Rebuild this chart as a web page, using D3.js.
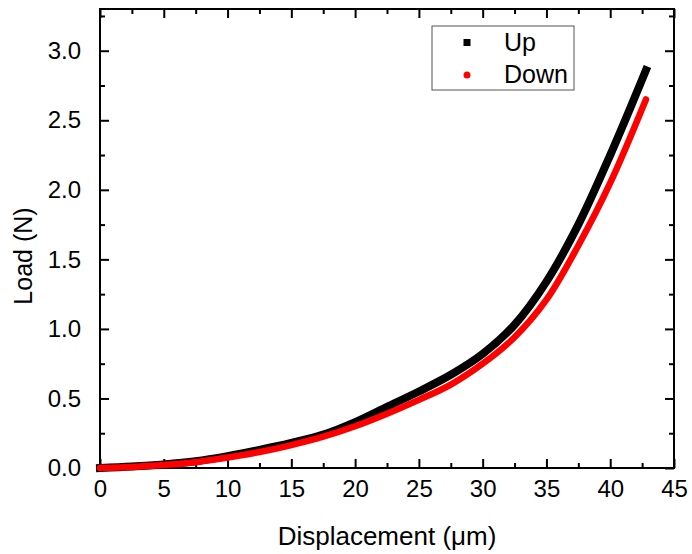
<!DOCTYPE html>
<html>
<head>
<meta charset="utf-8">
<script src="https://cdn.jsdelivr.net/npm/d3@7"></script>
<style>
  body {margin: 0; background: #fff;}
  svg text {font-family: 'Liberation Sans', Arial, sans-serif; fill: #000;}
</style>
</head>
<body>
<div id="graph"></div>
<script>
// displacement (um) and load (N)
var upDisp = [0, 2.5, 5, 7.5, 10, 12.5, 15, 17.5, 20, 22.5, 25, 27.5, 30, 32.5, 35, 37.5, 40, 42.8]
var upLoad = [0, 0.01, 0.025, 0.048, 0.085, 0.13, 0.18, 0.24, 0.33, 0.44, 0.55, 0.67, 0.82, 1.03, 1.34, 1.75, 2.25, 2.86]

var downDisp = [0, 2.5, 5, 7.5, 10, 12.5, 15, 17.5, 20, 22.5, 25, 27.5, 30, 32.5, 35, 37.5, 40, 42.8]
var downLoad = [0, 0.008, 0.022, 0.042, 0.075, 0.115, 0.165, 0.225, 0.3, 0.39, 0.49, 0.6, 0.75, 0.94, 1.21, 1.6, 2.05, 2.65]

var xTicks = [0, 5, 10, 15, 20, 25, 30, 35, 40, 45]
var yTicks = [0, 0.5, 1.0, 1.5, 2.0, 2.5, 3.0]
var seriesNames = ['Up', 'Down']

var width = 692, height = 554
var margin = {left: 100, top: 9, right: 18, bottom: 86}

var svg = d3.select('#graph').append('svg')
  .attr('width', width)
  .attr('height', height)

var x = d3.scaleLinear().domain([0, 45]).range([margin.left, width - margin.right])
var y = d3.scaleLinear().domain([0, 3.3]).range([height - margin.bottom, margin.top])

var x0 = x.range()[0], x1 = x.range()[1]
var y0 = y.range()[0], y1 = y.range()[1]

// minor ticks halfway between the labelled ones
var xMinor = d3.range(2.5, 45, 5)
var yMinor = d3.range(0.25, 3.3, 0.5)

function styleAxis(g){
  g.select('.domain').remove()
  g.selectAll('.tick line').attr('stroke', '#000').attr('stroke-width', 2)
  g.selectAll('.tick text').style('font-size', '24px')
}

// bottom
svg.append('g')
  .attr('transform', `translate(0,${y0})`)
  .call(d3.axisBottom(x).tickValues(xTicks).tickSize(-9).tickPadding(12).tickFormat(d3.format('d')))
  .call(styleAxis)
svg.append('g')
  .attr('transform', `translate(0,${y0})`)
  .call(d3.axisBottom(x).tickValues(xMinor).tickSize(-5).tickFormat(''))
  .call(styleAxis)

// top (mirror)
svg.append('g')
  .attr('transform', `translate(0,${y1})`)
  .call(d3.axisTop(x).tickValues(xTicks).tickSize(-9).tickFormat(''))
  .call(styleAxis)
svg.append('g')
  .attr('transform', `translate(0,${y1})`)
  .call(d3.axisTop(x).tickValues(xMinor).tickSize(-5).tickFormat(''))
  .call(styleAxis)

// left
svg.append('g')
  .attr('transform', `translate(${x0},0)`)
  .call(d3.axisLeft(y).tickValues(yTicks).tickSize(-9).tickPadding(19).tickFormat(d3.format('.1f')))
  .call(styleAxis)
svg.append('g')
  .attr('transform', `translate(${x0},0)`)
  .call(d3.axisLeft(y).tickValues(yMinor).tickSize(-5).tickFormat(''))
  .call(styleAxis)

// right (mirror)
svg.append('g')
  .attr('transform', `translate(${x1},0)`)
  .call(d3.axisRight(y).tickValues(yTicks).tickSize(-9).tickFormat(''))
  .call(styleAxis)
svg.append('g')
  .attr('transform', `translate(${x1},0)`)
  .call(d3.axisRight(y).tickValues(yMinor).tickSize(-5).tickFormat(''))
  .call(styleAxis)

// frame
svg.append('rect')
  .attr('x', x0).attr('y', y1)
  .attr('width', x1 - x0).attr('height', y0 - y1)
  .attr('fill', 'none').attr('stroke', '#000').attr('stroke-width', 2)

var line = d3.line()
  .x(d => x(d[0]))
  .y(d => y(d[1]))
  .curve(d3.curveCatmullRom.alpha(0.5))

var upPts = d3.zip(upDisp, upLoad)
var downPts = d3.zip(downDisp, downLoad)

svg.append('path')
  .attr('d', line(upPts))
  .attr('fill', 'none').attr('stroke', '#000').attr('stroke-width', 8)
  .attr('stroke-linecap', 'square')

svg.append('path')
  .attr('d', line(downPts))
  .attr('fill', 'none').attr('stroke', '#f00').attr('stroke-width', 6.5)
  .attr('stroke-linecap', 'round')

// axis titles
svg.append('text')
  .attr('x', (x0 + x1) / 2).attr('y', 545)
  .attr('text-anchor', 'middle')
  .style('font-size', '26px')
  .text('Displacement (\u03bcm)')

svg.append('text')
  .attr('transform', `translate(32,256) rotate(-90)`)
  .attr('text-anchor', 'middle')
  .style('font-size', '25px')
  .text('Load (N)')

// legend
var lg = svg.append('g').attr('transform', 'translate(432,26)')
lg.append('rect')
  .attr('width', 142).attr('height', 64)
  .attr('fill', '#fff').attr('stroke', '#555').attr('stroke-width', 1)

lg.append('rect')
  .attr('x', 35 - 3.5).attr('y', 16.5 - 3.5)
  .attr('width', 7).attr('height', 7)
  .attr('fill', '#000')
lg.append('circle')
  .attr('cx', 35).attr('cy', 49).attr('r', 3.5)
  .attr('fill', '#f00')

lg.selectAll('text.lbl')
  .data(seriesNames)
  .join('text')
  .attr('class', 'lbl')
  .attr('x', 72)
  .attr('y', (d, i) => 25 + i * 32)
  .style('font-size', '25px')
  .text(d => d)
</script>
</body>
</html>
